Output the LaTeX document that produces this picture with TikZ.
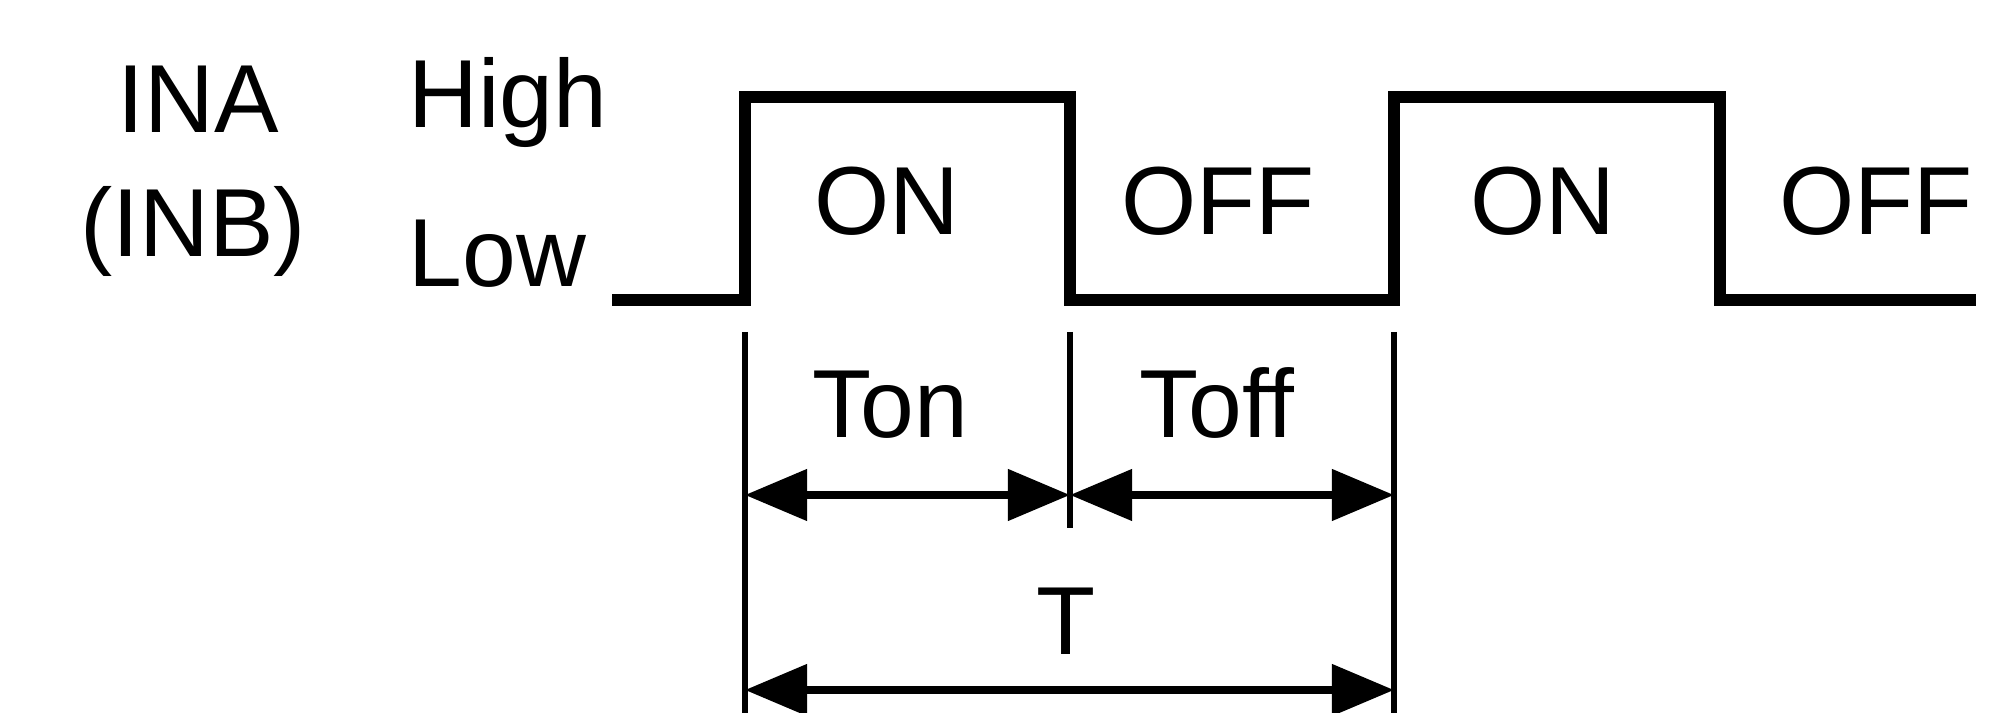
\documentclass[tikz,border=0pt]{standalone}
\usepackage{fontspec}
\setmainfont{Liberation Sans}
\usetikzlibrary{arrows.meta}
\tikzset{
    wave/.style     = {line width=3.5pt, line join=miter},
    guide/.style    = {line width=1.6pt},
    span/.style     = {{Triangle[length=6.2mm,width=5mm]}-{Triangle[length=6.2mm,width=5mm]}, line width=2.2pt},
    siglabel/.style = {font=\fontsize{27.5}{33}\selectfont, inner sep=0pt}
}

\begin{document}
\begin{tikzpicture}[x=0.01cm, y=-0.01cm]
    \useasboundingbox (0,0) rectangle (2005,713);

    % --- Signal name and levels ---
    \node[siglabel, anchor=base] (ina) at (198,133) {INA};
    \node[siglabel, anchor=base] (inb) at (193,257) {(INB)};
    \node[siglabel, anchor=base west] (high) at (408,128) {High};
    \node[siglabel, anchor=base west] (low) at (408,287) {Low};

    % --- Waveform corners ---
    \coordinate (w_start) at (612,300);
    \coordinate (rise_a) at (745,300);
    \coordinate (fall_a) at (1070,300);
    \coordinate (rise_b) at (1394,300);
    \coordinate (fall_b) at (1720,300);
    \coordinate (w_end) at (1976,300);

    \draw[wave] (w_start) -- (rise_a) -- ++(0,-203) -| (fall_a) -- (rise_b) -- ++(0,-203) -| (fall_b) -- (w_end);

    % --- State labels ---
    \node[siglabel, anchor=base] (on_a) at (887,235) {ON};
    \node[siglabel, anchor=base] (off_a) at (1218,235) {OFF};
    \node[siglabel, anchor=base] (on_b) at (1543,235) {ON};
    \node[siglabel, anchor=base] (off_b) at (1876,235) {OFF};

    % --- Guide lines ---
    \coordinate (g_left) at (745,332);
    \coordinate (g_mid) at (1070,332);
    \coordinate (g_right) at (1394,332);
    \draw[guide] (g_left) -- (745,713);
    \draw[guide] (g_mid) -- (1070,528);
    \draw[guide] (g_right) -- (1394,713);

    % --- Period dimensions ---
    \coordinate (ton_l) at (745,495);
    \coordinate (ton_r) at (1070,495);
    \coordinate (toff_r) at (1394,495);
    \coordinate (t_l) at (745,690);
    \coordinate (t_r) at (1394,690);

    \draw[span] (ton_l) -- (ton_r);
    \draw[span] (ton_r) -- (toff_r);
    \draw[span] (t_l) -- (t_r);

    \node[siglabel, anchor=base] (ton) at (890,438) {Ton};
    \node[siglabel, anchor=base] (toff) at (1217,438) {Toff};
    \node[siglabel, anchor=base] (tper) at (1066,655) {T};

\end{tikzpicture}
\end{document}
